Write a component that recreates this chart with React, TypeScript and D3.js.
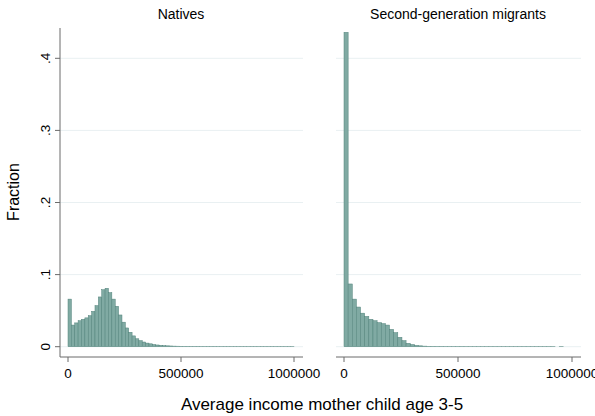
import React from "react";
import * as d3 from "d3";

// Histogram fractions per bin, income from 0 to each group's maximum
const nativesMax = 1000000;
const nativesFractions = [
  0.066, 0.030, 0.033, 0.036, 0.038, 0.040, 0.043, 0.049, 0.057, 0.069,
  0.079, 0.081, 0.075, 0.066, 0.056, 0.044, 0.034, 0.026, 0.020, 0.015,
  0.011, 0.0084, 0.0065, 0.005, 0.004, 0.003, 0.0024, 0.0019, 0.0015, 0.0012,
  0.001, 0.0008, 0.0007, 0.0006, 0.0005, 0.0005, 0.0004, 0.0004, 0.0004, 0.0003,
  0.0003, 0.0003, 0.0003, 0.0003, 0.0002, 0.0002, 0.0002, 0.0002, 0.0002, 0.0002,
  0.0002, 0.0002, 0.0002, 0.0002, 0.0002, 0.0002, 0.0002, 0.0002, 0.0002, 0.0002,
  0.0002, 0.0002, 0.0002, 0.0002, 0.0002, 0.0002, 0.0002,
];

const migrantsMax = 962000;
const migrantsFractions = [
  0.436, 0.087, 0.066, 0.055, 0.0465, 0.042, 0.038, 0.036, 0.0334, 0.032,
  0.030, 0.024, 0.0195, 0.013, 0.0084, 0.0047, 0.003, 0.0018, 0.0012, 0.0008,
  0.0006, 0.0005, 0.0004, 0.0004, 0.0003, 0.0003, 0.0003, 0.0003, 0.0003, 0.0002,
  0.0002, 0.0002, 0.0002, 0.0002, 0.0002, 0.0002, 0.0002, 0.0002, 0.0002, 0.0002,
  0.0002, 0.0002, 0.0002, 0.0002, 0.0002, 0.0002, 0.0002, 0.0002, 0.0002, 0.0002,
  0.0002, 0, 0.0002,
];

const panelTitles = ["Natives", "Second-generation migrants"];
const yTicks = [0, 0.1, 0.2, 0.3, 0.4];
const yTickLabels = ["0", ".1", ".2", ".3", ".4"];
const xTicks = [0, 500000, 1000000];
const xTickLabels = ["0", "500000", "1000000"];

const W = 595;
const H = 416;
const FONT = "Arial, 'Liberation Sans', Helvetica, sans-serif";
const FILL = "#80aaa3";
const EDGE = "#50827a";
const GRID = "#e9f0f2";
const AXIS = "#6b6b6b";

const plotTop = 28;
const axisY = 357;
const yScale = d3.scaleLinear().domain([0, 0.4]).range([346.7, 58.3]);

const panels = [
  { title: panelTitles[0], left: 60, right: 303, x0: 68, x1: 294, max: nativesMax, values: nativesFractions },
  { title: panelTitles[1], left: 336, right: 581, x0: 344, x1: 572, max: migrantsMax, values: migrantsFractions },
];

function Panel({ p, showY }: { p: (typeof panels)[number]; showY: boolean }) {
  const x = d3.scaleLinear().domain([0, 1000000]).range([p.x0, p.x1]);
  const w = p.max / p.values.length;
  return (
    <g>
      {/* horizontal gridlines */}
      {yTicks.map((t) => (
        <line key={t} x1={p.left} x2={p.right} y1={yScale(t)} y2={yScale(t)} stroke={GRID} strokeWidth={1} />
      ))}
      {/* histogram bars */}
      {p.values.map((v, i) => {
        const a = x(i * w);
        const b = x((i + 1) * w);
        if (v <= 0) return null;
        return (
          <rect
            key={i}
            x={a}
            y={yScale(v)}
            width={b - a}
            height={yScale(0) - yScale(v)}
            fill={FILL}
            stroke={EDGE}
            strokeWidth={0.5}
          />
        );
      })}
      {/* x axis */}
      <line x1={p.left} x2={p.right} y1={axisY} y2={axisY} stroke={AXIS} strokeWidth={1} />
      {xTicks.map((t, i) => (
        <g key={t}>
          <line x1={x(t)} x2={x(t)} y1={axisY} y2={axisY + 5} stroke={AXIS} strokeWidth={1} />
          <text x={x(t)} y={axisY + 21} textAnchor="middle" fontSize={13.5} fontFamily={FONT} fill="#000">
            {xTickLabels[i]}
          </text>
        </g>
      ))}
      {/* y axis */}
      {showY && (
        <g>
          <line x1={p.left} x2={p.left} y1={plotTop} y2={axisY} stroke={AXIS} strokeWidth={1} />
          {yTicks.map((t, i) => (
            <g key={t}>
              <line x1={p.left - 5} x2={p.left} y1={yScale(t)} y2={yScale(t)} stroke={AXIS} strokeWidth={1} />
              <text
                transform={`translate(${p.left - 10},${yScale(t)}) rotate(-90)`}
                textAnchor="middle"
                fontSize={13.5}
                fontFamily={FONT}
                fill="#000"
              >
                {yTickLabels[i]}
              </text>
            </g>
          ))}
        </g>
      )}
      <text x={(p.x0 + p.x1) / 2} y={19} textAnchor="middle" fontSize={14} fontFamily={FONT} fill="#000">
        {p.title}
      </text>
    </g>
  );
}

export default function App() {
  return (
    <svg
      width={W}
      height={H}
      style={{ position: "absolute", left: 0, top: 0, background: "#fff" }}
    >
      <rect width={W} height={H} fill="#fff" />
      {panels.map((p, i) => (
        <Panel key={p.title} p={p} showY={i === 0} />
      ))}
      <text x={322} y={410} textAnchor="middle" fontSize={17} fontFamily={FONT} fill="#000">
        Average income mother child age 3-5
      </text>
      <text
        transform={`translate(19,192) rotate(-90)`}
        textAnchor="middle"
        fontSize={16}
        fontFamily={FONT}
        fill="#000"
      >
        Fraction
      </text>
    </svg>
  );
}
